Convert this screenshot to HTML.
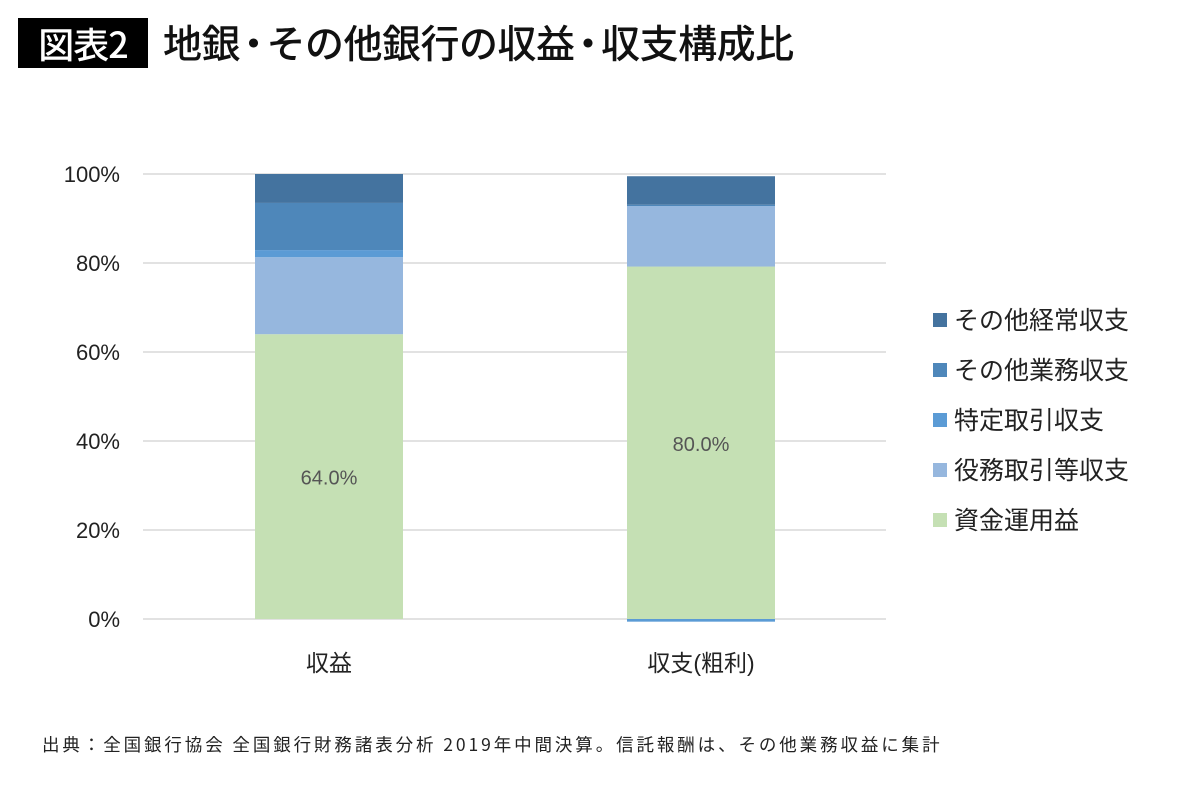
<!DOCTYPE html>
<html><head><meta charset="utf-8"><style>
body{margin:0;background:#fff;width:1200px;height:800px;overflow:hidden;font-family:"Liberation Sans","Noto Sans CJK JP",sans-serif;}
#title-box{position:absolute;left:18px;top:18px;width:130px;height:50px;background:#000;color:#fff;font:500 36px "Noto Sans CJK JP",sans-serif;line-height:50px;text-align:center;letter-spacing:-1px}
#title{position:absolute;left:163px;top:13px;font:500 39px "Noto Sans CJK JP",sans-serif;line-height:58px;color:#111;letter-spacing:-0.5px;white-space:nowrap}
#title .dot{display:inline-block;margin:0 -6px}
#foot{position:absolute;left:42px;top:732px;font:400 17.5px "Noto Sans CJK JP",sans-serif;color:#222;white-space:nowrap;letter-spacing:2.9px}
</style></head><body>
<div id="title-box">図表2</div>
<div id="title">地銀<span class="dot">・</span>その他銀行の収益<span class="dot">・</span>収支構成比</div>
<svg id="chart" width="1200" height="800" style="position:absolute;left:0;top:0"></svg>
<div id="foot">出典：全国銀行協会 全国銀行財務諸表分析 2019年中間決算。信託報酬は、その他業務収益に集計</div>
<script>
const categories=["収益","収支(粗利)"];
const seriesNames=["資金運用益","役務取引等収支","特定取引収支","その他業務収支","その他経常収支"];
const shikin=[64.0,79.2];
const ekimu=[17.3,13.6];
const tokutei=[1.6,-0.6];
const gyomu=[10.6,0.3];
const keijo=[6.5,6.4];
const valueLabels=["64.0%","80.0%"];
const yTicks=[0,20,40,60,80,100];
const colors=["#c5e0b4","#96b7de","#5b9bd5","#4e87ba","#44739f"];
const NS="http://www.w3.org/2000/svg",svg=document.getElementById('chart');
const y0=619,y100=174,xL=143,xR=886,bw=148,centers=[329,701];
const y=v=>y0-(y0-y100)*v/100;
function mk(t,a){const e=document.createElementNS(NS,t);for(const k in a)e.setAttribute(k,a[k]);svg.appendChild(e);return e;}
yTicks.forEach(t=>{
 const l=mk('line',{x1:xL,x2:xR,y1:y(t),y2:y(t),stroke:'#d9d9d9','stroke-width':1.5});
 
 
 const tx=mk('text',{x:120,y:y(t)+8,'text-anchor':'end','font-size':22,fill:'#222'});
 tx.textContent=t+'%';
 
 
});
const series=[shikin,ekimu,tokutei,gyomu,keijo];
categories.forEach((c,i)=>{
 let pos=0,neg=0;
 series.forEach((s,j)=>{
  const v=s[i];let a,b;
  if(v>=0){a=pos;b=pos+v;pos=b;}else{a=neg+v;b=neg;neg=a;}
  const r=mk('rect',{x:centers[i]-bw/2,y:y(b),width:bw,height:Math.max(y(a)-y(b),0.8),fill:colors[j]});
  
  
 });
 const lb=mk('text',{x:centers[i],y:y(shikin[i]/2)+8,'text-anchor':'middle','font-size':20,fill:'#555'});
 lb.textContent=valueLabels[i];
 
 
 const cx=mk('text',{x:centers[i],y:671,'text-anchor':'middle','font-size':23,fill:'#222','font-family':'"Liberation Sans","Noto Sans CJK JP",sans-serif'});
 cx.textContent=c;
 
 
});
for(let k=0;k<5;k++){
 const j=4-k,ly=320+k*50;
 const sq=mk('rect',{x:933,y:ly-7,width:14,height:14,fill:colors[j]});
 
 
 const t=mk('text',{x:954,y:ly+9,'font-size':25,fill:'#222','font-family':'"Noto Sans CJK JP",sans-serif'});
 t.textContent=seriesNames[j];
 
 
}
</script>
</body></html>
